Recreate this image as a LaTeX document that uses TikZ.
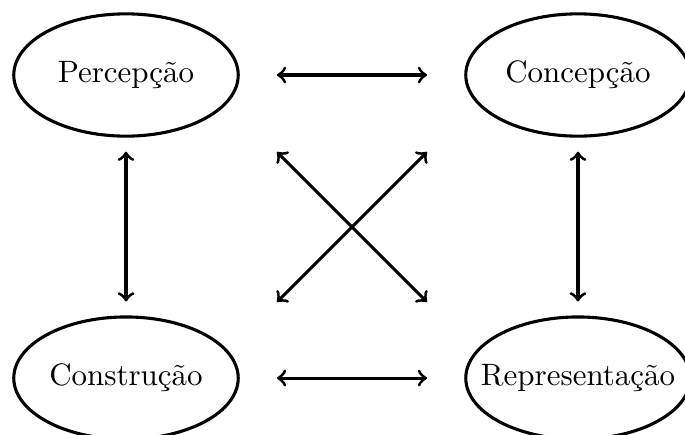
\documentclass[tikz,border=0pt]{standalone}
\usepackage{tikz}
\usetikzlibrary{shapes.geometric, arrows}
\tikzstyle{quadrant} = [ellipse, draw=black, line width=1pt, minimum width=72.5pt, minimum height=39.5pt, inner xsep=-8pt, text centered]
\tikzstyle{arrow} = [line width=1pt,<->]

\begin{document}
\begin{tikzpicture}[x=0.323pt, y=-0.323pt, node distance=146pt]
		\useasboundingbox (0,0) rectangle (685,435);
		\node (perc) [quadrant] at (126,75) {Percepção};
		\node (conc) [quadrant, right of=perc] {Concepção};
		\node (cons) [quadrant, below of=perc, node distance=97.9pt] {Construção};
		\node (repr) [quadrant, below of=conc, node distance=97.9pt] {Representação};
		\coordinate (nw) at (277,152);
		\coordinate (ne) at (427,152);
		\coordinate (sw) at (277,302);
		\coordinate (se) at (427,302);
		\draw [arrow, shorten <=12pt, shorten >=12pt] (perc) -- (conc);
		\draw [arrow, shorten <=12pt, shorten >=12pt] (cons) -- (repr);
		\draw [arrow, shorten <=4.5pt, shorten >=4.5pt] (perc) -- (cons);
		\draw [arrow, shorten <=4.5pt, shorten >=4.5pt] (conc) -- (repr);
		\draw [arrow] (nw) -- (se);
		\draw [arrow] (ne) -- (sw);
	\end{tikzpicture}
\end{document}
